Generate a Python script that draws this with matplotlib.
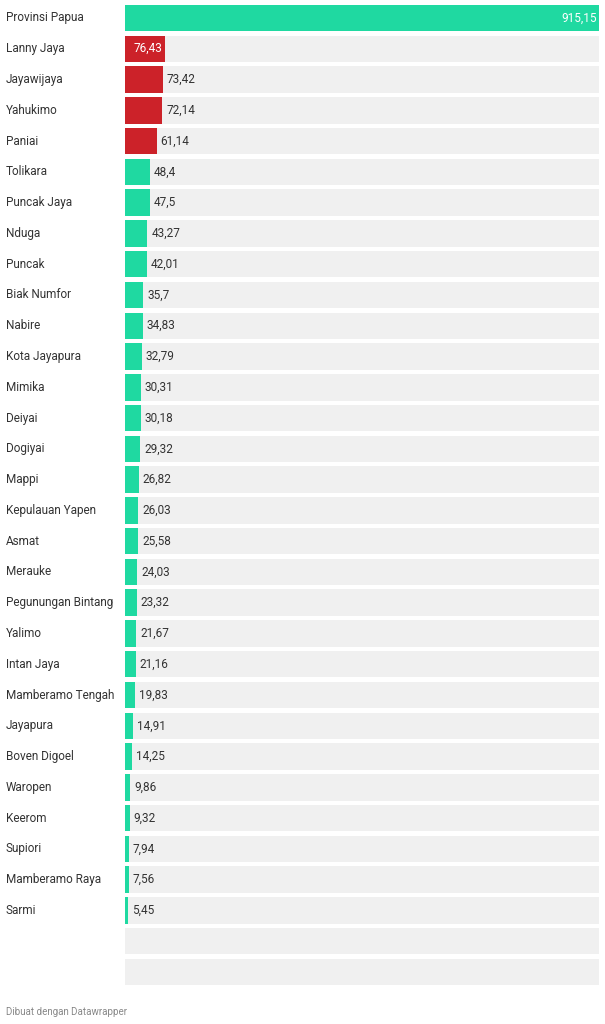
import matplotlib.pyplot as plt
from matplotlib.transforms import blended_transform_factory

plt.rcParams['font.family'] = ['Roboto', 'DejaVu Sans']

regions = ["Provinsi Papua", "Lanny Jaya", "Jayawijaya", "Yahukimo", "Paniai", "Tolikara",
           "Puncak Jaya", "Nduga", "Puncak", "Biak Numfor", "Nabire", "Kota Jayapura",
           "Mimika", "Deiyai", "Dogiyai", "Mappi", "Kepulauan Yapen", "Asmat", "Merauke",
           "Pegunungan Bintang", "Yalimo", "Intan Jaya", "Mamberamo Tengah", "Jayapura",
           "Boven Digoel", "Waropen", "Keerom", "Supiori", "Mamberamo Raya", "Sarmi", "", ""]
values = [915.15, 76.43, 73.42, 72.14, 61.14, 48.4, 47.5, 43.27, 42.01, 35.7, 34.83, 32.79,
          30.31, 30.18, 29.32, 26.82, 26.03, 25.58, 24.03, 23.32, 21.67, 21.16, 19.83,
          14.91, 14.25, 9.86, 9.32, 7.94, 7.56, 5.45, None, None]
highlight = ["Lanny Jaya", "Jayawijaya", "Yahukimo", "Paniai"]

teal = "#1fd9a1"
red = "#cc2229"
vmax = 915.15

fig = plt.figure(figsize=(6.05, 10.24), dpi=100)
ax = fig.add_axes([125 / 605, 1 - 987.4 / 1024, 474 / 605, 984.8 / 1024])
n = len(regions)
ys = list(range(n))
ax.barh(ys, [vmax] * n, height=0.86, color="#f0f0f0")
for y, name, v in zip(ys, regions, values):
    if v is None:
        continue
    c = red if name in highlight else teal
    ax.barh(y, v, height=0.86, color=c)
    label = f"{v:g}".replace(".", ",")
    if v > 75:
        ax.text(v - vmax * 0.004, y, label, va="center", ha="right", color="white", fontsize=8.5)
    else:
        ax.text(v + vmax * 0.008, y, label, va="center", ha="left", color="#333333", fontsize=8.5)

tr = blended_transform_factory(fig.transFigure, ax.transData)
for y, name in zip(ys, regions):
    ax.text(6 / 605, y, name, transform=tr, va="center", ha="left", color="#333333", fontsize=8.5)

ax.set_xlim(0, vmax)
ax.set_ylim(n - 0.5, -0.5)
ax.axis("off")

fig.text(6 / 605, 1 - 1012 / 1024, "Dibuat dengan Datawrapper", color="#888888", fontsize=7, va="center")

plt.savefig("out.png")
